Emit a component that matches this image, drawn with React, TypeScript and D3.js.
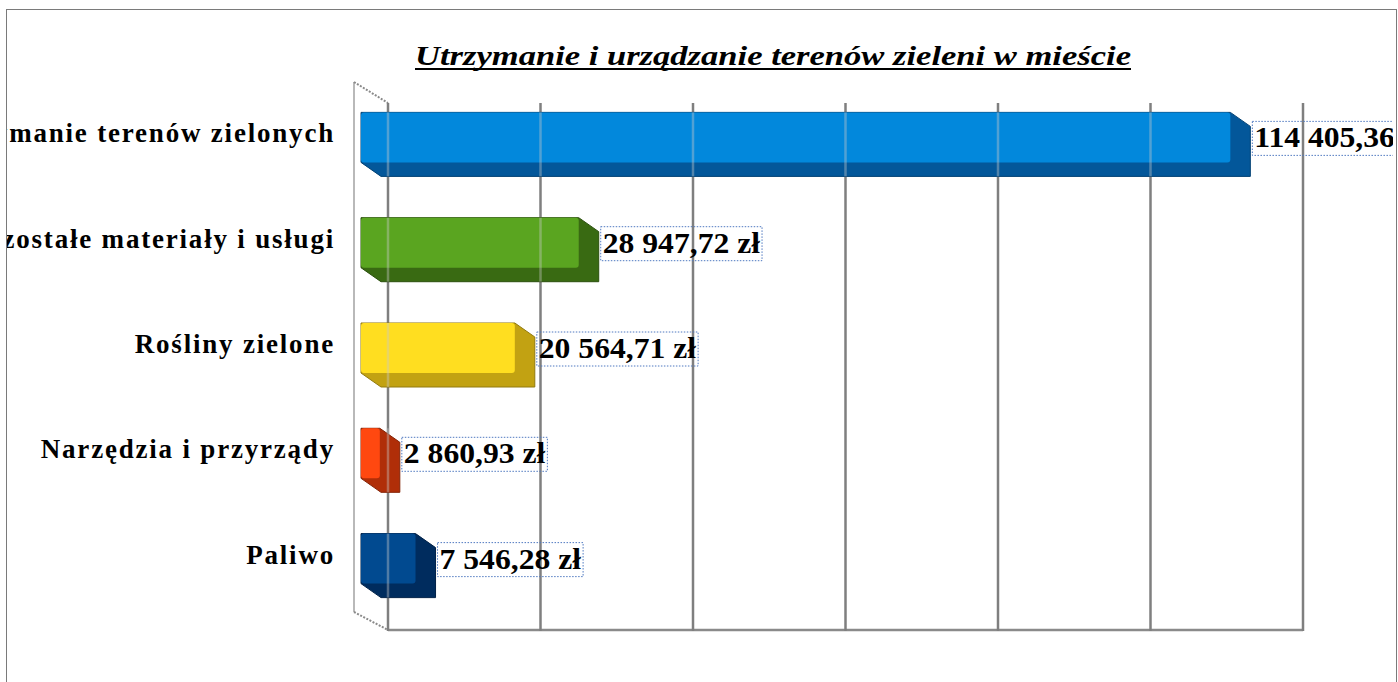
import { useEffect, useRef } from 'react';
import * as d3 from 'd3';

const categories = [
  'Utrzymanie terenów zielonych',
  'Pozostałe materiały i usługi',
  'Rośliny zielone',
  'Narzędzia i przyrządy',
  'Paliwo',
];
const values = [114405.36, 28947.72, 20564.71, 2860.93, 7546.28];
const frontColors = ['#0288dc', '#5aa520', '#ffde20', '#ff4810', '#014a90'];
const sideColors = ['#03579a', '#396a12', '#c2a212', '#b02e08', '#002c5e'];
const gridTicks = [0, 20000, 40000, 60000, 80000, 100000, 120000];
const title = 'Utrzymanie i urządzanie terenów zieleni w mieście';

const W = 1398;
const H = 682;

const pl = d3.formatLocale({ decimal: ',', thousands: ' ', grouping: [3], currency: ['', ' zł'] });
const fmt = pl.format('$,.2f');

export default function App() {
  const svgRef = useRef<SVGSVGElement>(null);

  useEffect(() => {
    document.body.style.margin = '0';
    if (!svgRef.current) return;
    const svg = d3.select(svgRef.current);
    svg.selectAll('*').remove();

    // back wall scale
    const x = d3.scaleLinear().domain([0, 120000]).range([388, 1303]);
    const y = d3.scaleBand<string>().domain(categories).range([85, 611]).paddingInner(0.525).paddingOuter(0.26);
    const wallTop = 103;
    const floorY = 630;
    const dx = 20;
    const dy = 14;

    const defs = svg.append('defs');
    defs.append('clipPath').attr('id', 'frameClip')
      .append('rect').attr('x', 7).attr('y', 10).attr('width', 1386).attr('height', H);

    // outer frame
    svg.append('rect')
      .attr('x', 6.5).attr('y', 9.5).attr('width', 1390).attr('height', H)
      .attr('fill', 'white').attr('stroke', '#7a7a7a').attr('stroke-width', 1);

    // title
    svg.append('text')
      .attr('x', 415).attr('y', 65)
      .attr('textLength', 716)
      .attr('lengthAdjust', 'spacingAndGlyphs')
      .style('font-family', '"Liberation Serif", serif')
      .style('font-weight', 'bold')
      .style('font-style', 'italic')
      .style('font-size', '28px')
      .text(title);
    svg.append('line')
      .attr('x1', 415).attr('x2', 1131).attr('y1', 69).attr('y2', 69)
      .attr('stroke', '#000').attr('stroke-width', 2.2);

    // walls
    const wall = svg.append('g').attr('stroke', '#8a8a8a').attr('fill', 'none');
    wall.append('line').attr('x1', 354).attr('y1', 82).attr('x2', 354).attr('y2', 612).attr('stroke-width', 1.2);
    wall.append('line').attr('x1', 354).attr('y1', 82).attr('x2', x(0)).attr('y2', wallTop)
      .attr('stroke-width', 2).attr('stroke-dasharray', '2,1.5');
    wall.append('line').attr('x1', 354).attr('y1', 612).attr('x2', x(0)).attr('y2', floorY)
      .attr('stroke-width', 2).attr('stroke-dasharray', '2,1.5');
    wall.append('line').attr('x1', x(0)).attr('y1', floorY).attr('x2', x(120000)).attr('y2', floorY)
      .attr('stroke-width', 2.5);

    svg.append('g').selectAll('line').data(gridTicks).join('line')
      .attr('x1', d => x(d)).attr('x2', d => x(d))
      .attr('y1', wallTop).attr('y2', floorY + 1)
      .attr('stroke', '#7f7f7f').attr('stroke-width', 2.5);

    // bars
    const bars = svg.append('g').attr('clip-path', 'url(#frameClip)');
    categories.forEach((c, i) => {
      const top = y(c)!;
      const h = y.bandwidth();
      const x0 = x(0) - 27;
      const x1 = x(values[i]) - 30;
      const g = bars.append('g');
      const shape = [
        [x0, top], [x1, top], [x1 + dx, top + dy], [x1 + dx, top + h + dy], [x0 + dx, top + h + dy], [x0, top + h],
      ];
      g.append('path')
        .attr('d', 'M' + shape.map(p => p.join(',')).join('L') + 'Z')
        .attr('fill', sideColors[i]).attr('stroke', d3.color(sideColors[i])!.darker(0.8).toString()).attr('stroke-width', 1);
      g.append('rect')
        .attr('x', x0).attr('y', top).attr('width', x1 - x0).attr('height', h)
        .attr('rx', 3)
        .attr('fill', frontColors[i]);
      // grid seen through the bar
      g.selectAll('line').data(gridTicks.filter(t => x(t) > x0 && x(t) < x1 + dx)).join('line')
        .attr('x1', d => x(d)).attr('x2', d => x(d))
        .attr('y1', top).attr('y2', top + h + dy)
        .attr('stroke', '#c8c8c8').attr('stroke-opacity', 0.4).attr('stroke-width', 2.5);

      // value label
      const cy = top + h / 2;
      const lx = x1 + dx + 2;
      const t = bars.append('text')
        .attr('x', lx + 2).attr('y', cy + 10)
        .style('font-family', '"Liberation Serif", serif')
        .style('font-weight', 'bold')
        .style('font-size', '30px')
        .text(fmt(values[i]));
      const bb = (t.node() as SVGTextElement).getBBox();
      const tw = bb.width * 1.05;
      t.attr('textLength', tw).attr('lengthAdjust', 'spacingAndGlyphs');
      bars.insert('rect', 'text')
        .attr('x', lx).attr('y', cy - 16)
        .attr('width', tw + 4).attr('height', 34)
        .attr('fill', 'none').attr('stroke', '#4f79c0')
        .attr('stroke-width', 1).attr('stroke-dasharray', '1.5,1.5');

      // category label
      bars.append('text')
        .attr('x', 335).attr('y', cy + 5)
        .attr('text-anchor', 'end')
        .style('font-family', '"Liberation Serif", serif')
        .style('font-weight', 'bold')
        .style('font-size', '27px')
        .style('letter-spacing', '1.8px')
        .text(c);
    });
  }, []);

  return (
    <svg ref={svgRef} width={W} height={H} style={{ display: 'block', background: 'white' }} />
  );
}
